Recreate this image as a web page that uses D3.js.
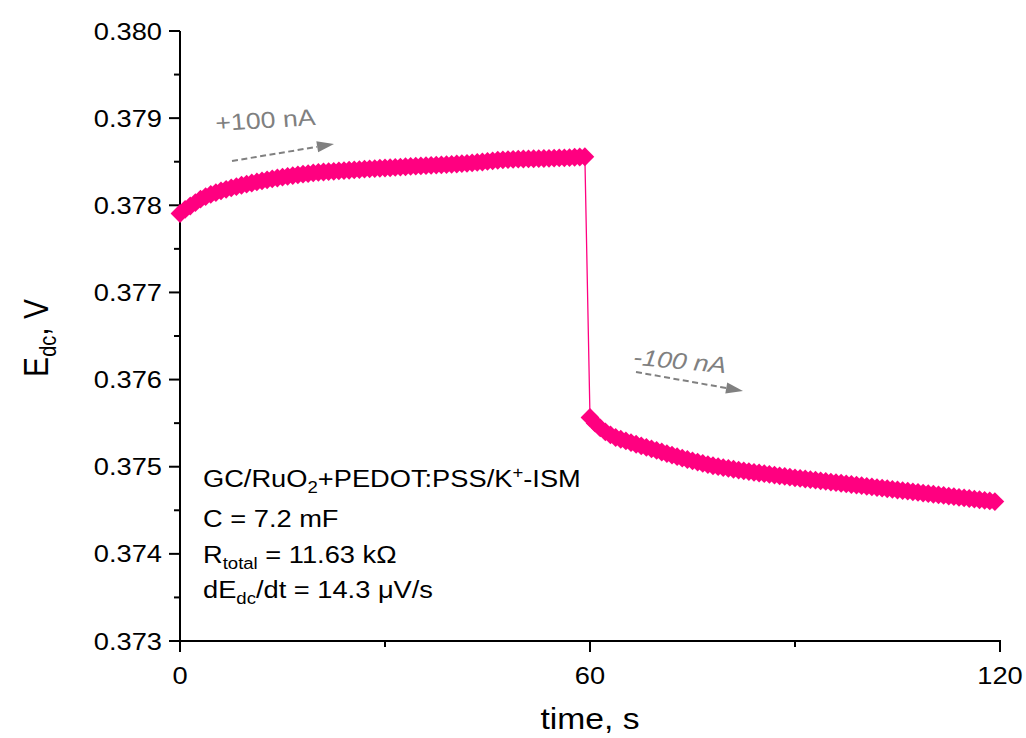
<!DOCTYPE html>
<html><head><meta charset="utf-8">
<script src="https://cdn.jsdelivr.net/npm/d3@7"></script>
<style>body{margin:0;background:#fff}svg text{font-family:Arial,"Liberation Sans",sans-serif}</style>
</head><body><svg id="c" width="1026" height="738"></svg>
<script>
const timeUp = [0,0.75,1.5,2.25,3,3.75,4.5,5.25,6,6.75,7.5,8.25,9,9.75,10.5,11.25,12,12.75,13.5,14.25,
15,15.75,16.5,17.25,18,18.75,19.5,20.25,21,21.75,22.5,23.25,24,24.75,25.5,26.25,27,27.75,28.5,29.25,
30,30.75,31.5,32.25,33,33.75,34.5,35.25,36,36.75,37.5,38.25,39,39.75,40.5,41.25,42,42.75,43.5,44.25,
45,45.75,46.5,47.25,48,48.75,49.5,50.25,51,51.75,52.5,53.25,54,54.75,55.5,56.25,57,57.75,58.5,59.25];
const edcUp = [0.377906,0.377952,0.377992,0.378030,0.378070,0.378100,0.378125,0.378146,0.378165,0.378183,
0.378199,0.378214,0.378230,0.378243,0.378256,0.378268,0.378280,0.378292,0.378303,0.378313,
0.378323,0.378332,0.378341,0.378349,0.378357,0.378364,0.378371,0.378377,0.378382,0.378386,
0.378390,0.378394,0.378398,0.378402,0.378406,0.378410,0.378414,0.378418,0.378421,0.378425,
0.378428,0.378431,0.378435,0.378438,0.378442,0.378446,0.378449,0.378452,0.378455,0.378458,
0.378461,0.378464,0.378467,0.378470,0.378474,0.378478,0.378482,0.378487,0.378492,0.378497,
0.378503,0.378510,0.378517,0.378522,0.378525,0.378527,0.378529,0.378531,0.378532,0.378534,
0.378536,0.378537,0.378539,0.378541,0.378543,0.378545,0.378548,0.378551,0.378554,0.378557];
const timeDown = [60,60.75,61.5,62.25,63,63.75,64.5,65.25,66,66.75,67.5,68.25,69,69.75,70.5,71.25,72,72.75,73.5,74.25,
75,75.75,76.5,77.25,78,78.75,79.5,80.25,81,81.75,82.5,83.25,84,84.75,85.5,86.25,87,87.75,88.5,89.25,
90,90.75,91.5,92.25,93,93.75,94.5,95.25,96,96.75,97.5,98.25,99,99.75,100.5,101.25,102,102.75,103.5,104.25,
105,105.75,106.5,107.25,108,108.75,109.5,110.25,111,111.75,112.5,113.25,114,114.75,115.5,116.25,117,117.75,118.5,119.25];
const edcDown = [0.375565,0.375500,0.375445,0.375400,0.375365,0.375335,0.375315,0.375296,0.375277,0.375258,
0.375240,0.375222,0.375205,0.375187,0.375169,0.375151,0.375133,0.375115,0.375098,0.375083,
0.375068,0.375053,0.375038,0.375024,0.375011,0.375000,0.374990,0.374980,0.374971,0.374962,
0.374953,0.374944,0.374936,0.374928,0.374920,0.374912,0.374904,0.374896,0.374888,0.374880,
0.374873,0.374866,0.374859,0.374852,0.374845,0.374838,0.374831,0.374824,0.374817,0.374810,
0.374803,0.374796,0.374789,0.374782,0.374775,0.374768,0.374761,0.374754,0.374747,0.374740,
0.374733,0.374726,0.374719,0.374712,0.374705,0.374698,0.374691,0.374684,0.374677,0.374670,
0.374663,0.374656,0.374649,0.374642,0.374635,0.374628,0.374621,0.374614,0.374607,0.374600];
const yTicks = [0.373,0.374,0.375,0.376,0.377,0.378,0.379,0.380];
const yMinor = [0.3735,0.3745,0.3755,0.3765,0.3775,0.3785,0.3795];
const xTicks = [0,60,120];
const xMinor = [30,90];
const xTitle = "time, s";
const currentLabels = ["+100 nA","-100 nA"];
const infoLines = [
  [["GC/RuO",""],["2","sub"],["+PEDOT:PSS/K",""],["+","sup"],["-ISM",""]],
  [["C = 7.2 mF",""]],
  [["R",""],["total","sub"],[" = 11.63 k\u03A9",""]],
  [["dE",""],["dc","sub"],["/dt = 14.3 \u03BCV/s",""]]
];

const SX = 1.16;
const svg = d3.select("#c");
const x = d3.scaleLinear().domain([0,120]).range([180,1000]);
const y = d3.scaleLinear().domain([0.373,0.380]).range([641,31]);
const pink = "#FF0080";

// axes
const ax = svg.append("g").attr("stroke","#000").attr("stroke-width",2);
ax.append("line").attr("x1",x(0)).attr("x2",x(0)).attr("y1",y(0.380)).attr("y2",y(0.373)+1);
ax.append("line").attr("x1",x(0)-1).attr("x2",x(120)+1).attr("y1",y(0.373)).attr("y2",y(0.373));
ax.selectAll(".ym").data(yTicks).join("line").attr("x1",x(0)-11).attr("x2",x(0)).attr("y1",d=>y(d)).attr("y2",d=>y(d));
ax.selectAll(".yn").data(yMinor).join("line").attr("x1",x(0)-6).attr("x2",x(0)).attr("y1",d=>y(d)).attr("y2",d=>y(d));
ax.selectAll(".xm").data(xTicks).join("line").attr("x1",d=>x(d)).attr("x2",d=>x(d)).attr("y1",y(0.373)).attr("y2",y(0.373)+11);
ax.selectAll(".xn").data(xMinor).join("line").attr("x1",d=>x(d)).attr("x2",d=>x(d)).attr("y1",y(0.373)).attr("y2",y(0.373)+6);

svg.append("g").selectAll("text").data(yTicks).join("text")
  .attr("transform",d=>`translate(${x(0)-18},${y(d)+8.5}) scale(${SX},1)`)
  .attr("text-anchor","end").attr("font-size",23.5).attr("fill","#000")
  .text(d3.format(".3f"));
svg.append("g").selectAll("text").data(xTicks).join("text")
  .attr("transform",d=>`translate(${x(d)},${y(0.373)+43}) scale(${SX},1)`)
  .attr("text-anchor","middle").attr("font-size",23.5).attr("fill","#000")
  .text(d=>d);

svg.append("text").attr("transform",`translate(${x(60)},729) scale(${SX},1)`)
  .attr("text-anchor","middle").attr("font-size",29).attr("fill","#000").text(xTitle);
const yt = svg.append("text").attr("transform",`translate(48,338) scale(${SX},1) rotate(-90)`)
  .attr("text-anchor","middle").attr("font-size",30).attr("fill","#000");
yt.append("tspan").text("E");
yt.append("tspan").attr("font-size",20).attr("dy",7).text("dc");
yt.append("tspan").attr("dy",-7).text(", V");

// data
const up = timeUp.map((t,i)=>({t,v:edcUp[i]}));
const down = timeDown.map((t,i)=>({t,v:edcDown[i]}));
const all = up.concat(down);
svg.append("path").datum(all).attr("fill","none").attr("stroke",pink).attr("stroke-width",1.3)
  .attr("d",d3.line().x(d=>x(d.t)).y(d=>y(d.v)));
const r = 9.4;
svg.append("g").selectAll("path").data(all).join("path")
  .attr("d",`M0,${-r}L${r},0L0,${r}L${-r},0Z`).attr("fill",pink)
  .attr("transform",d=>`translate(${x(d.t)},${y(d.v)})`);

// annotations
const gray = "#808080";
function arrow(x1,y1,x2,y2){
  const dx=x2-x1, dy=y2-y1, L=Math.hypot(dx,dy), ux=dx/L, uy=dy/L, hl=17, hw=5.5;
  const bx=x2-ux*hl, by=y2-uy*hl;
  svg.append("line").attr("x1",x1).attr("y1",y1).attr("x2",bx).attr("y2",by)
    .attr("stroke",gray).attr("stroke-width",2).attr("stroke-dasharray","6,3.5");
  svg.append("path").attr("fill",gray)
    .attr("d",`M${x2},${y2}L${bx-uy*hw},${by+ux*hw}L${bx+uy*hw},${by-ux*hw}Z`);
}
arrow(232,161,334,144);
arrow(636,372,743,391);
svg.append("text").attr("transform",`translate(266,128) scale(${SX},1) rotate(-4)`)
  .attr("text-anchor","middle").attr("font-size",23).attr("fill",gray).text(currentLabels[0]);
svg.append("text").attr("transform",`translate(679,369) scale(${SX},1) rotate(6)`)
  .attr("text-anchor","middle").attr("font-size",23).attr("font-style","italic").attr("fill",gray).text(currentLabels[1]);

// info text
const baselines = [487,527,563,598];
infoLines.forEach((segs,i)=>{
  const t = svg.append("text").attr("transform",`translate(203,${baselines[i]}) scale(${SX},1)`)
    .attr("font-size",23.5).attr("fill","#000");
  let shift = 0;
  segs.forEach(([s,k])=>{
    const target = k==="sub"?6:k==="sup"?-9:0;
    const ts = t.append("tspan").text(s).attr("dy",target-shift);
    if(k) ts.attr("font-size",16);
    shift = target;
  });
});
</script></body></html>
